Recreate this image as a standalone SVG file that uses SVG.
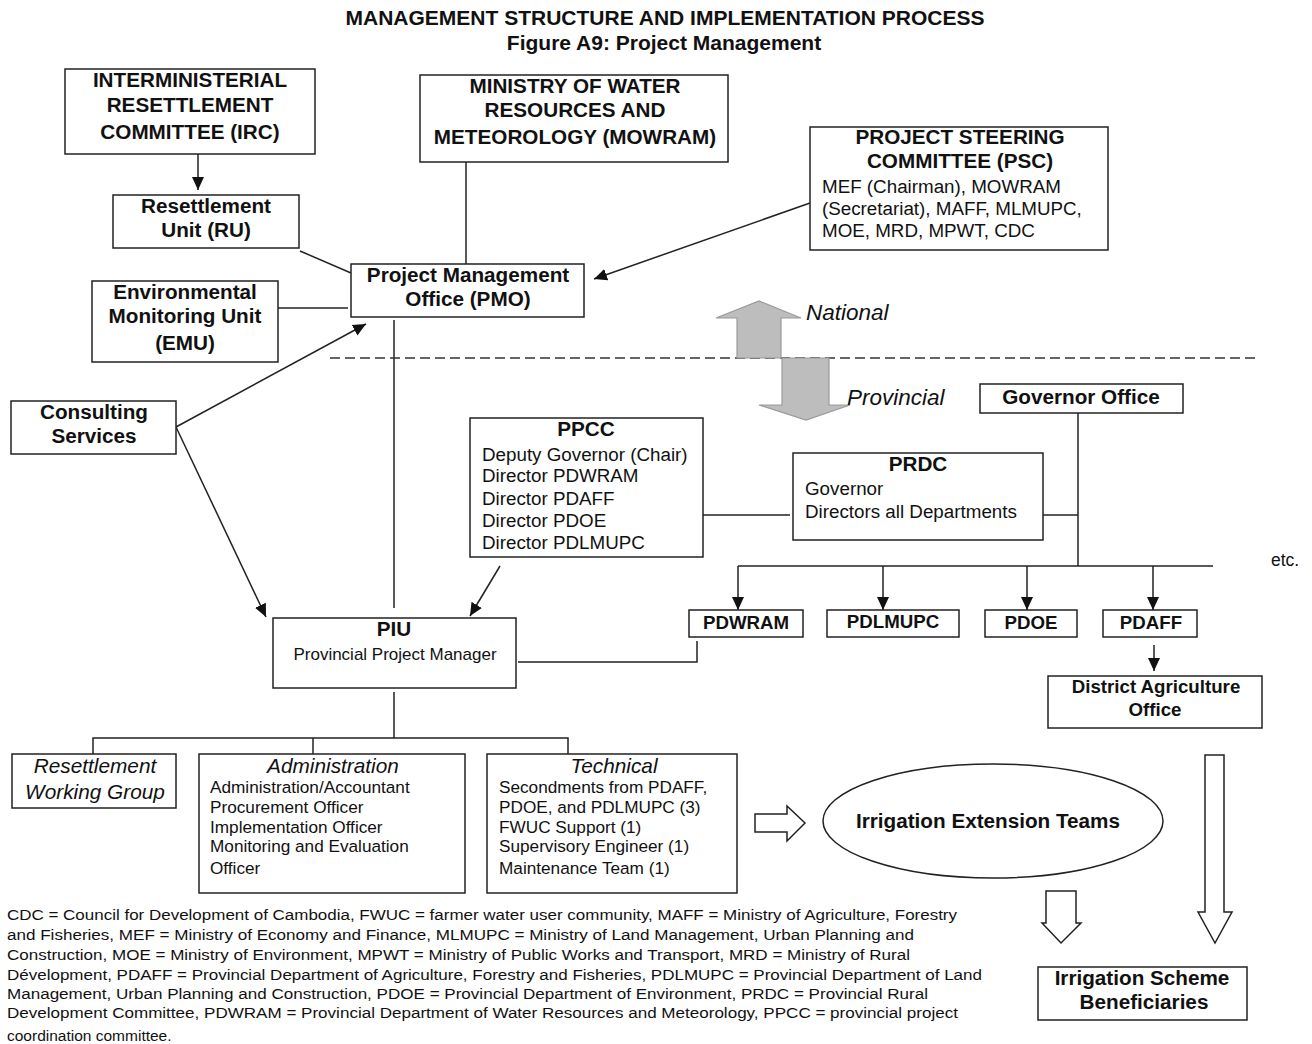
<svg xmlns="http://www.w3.org/2000/svg" width="1312" height="1044" viewBox="0 0 1312 1044">
<defs>
<style>
text{font-family:"Liberation Sans",Arial,sans-serif;fill:#111}
.tt{font-size:21px;font-weight:bold;text-anchor:middle}
.t{font-size:20.7px;font-weight:bold;text-anchor:middle}
.h{font-size:20.7px;font-weight:bold;text-anchor:middle}
.s{font-size:18.7px;font-weight:bold;text-anchor:middle}
.r{font-size:18.8px}
.r16{font-size:17.2px}
.i{font-size:20.8px;font-style:italic;text-anchor:middle}
.fn{font-size:15.5px}
.box{fill:#fff;stroke:#222;stroke-width:1.5}
.ln{fill:none;stroke:#222;stroke-width:1.5}
.hol{fill:#fff;stroke:#222;stroke-width:1.5}
.gray{fill:#bdbdbd;stroke:#9a9a9a;stroke-width:1.2}
</style>
<marker id="ah" markerWidth="14" markerHeight="14" refX="13" refY="7" orient="auto" markerUnits="userSpaceOnUse">
<path d="M0,1 L13,7 L0,13 Z" fill="#111"/>
</marker>
</defs>
<rect width="1312" height="1044" fill="#fff"/>

<text x="665" y="25" class="tt">MANAGEMENT STRUCTURE AND IMPLEMENTATION PROCESS</text>
<text x="664" y="50" class="tt">Figure A9: Project Management</text>

<g id="connectors">
<line class="ln" x1="198" y1="154" x2="198" y2="190" marker-end="url(#ah)"/>
<line class="ln" x1="300" y1="251" x2="351" y2="273"/>
<line class="ln" x1="278" y1="308" x2="348" y2="308"/>
<line class="ln" x1="466" y1="162" x2="466" y2="264"/>
<line class="ln" x1="810" y1="203" x2="594" y2="279" marker-end="url(#ah)"/>
<line class="ln" x1="176" y1="427" x2="366" y2="324" marker-end="url(#ah)"/>
<line class="ln" x1="176" y1="427" x2="266" y2="617" marker-end="url(#ah)"/>
<line class="ln" x1="394" y1="320" x2="394" y2="608"/>
<line class="ln" x1="500" y1="566" x2="470" y2="616" marker-end="url(#ah)"/>
<polyline class="ln" points="518,662 697,662 697,641"/>
<line class="ln" x1="703" y1="515" x2="790" y2="515"/>
<line class="ln" x1="1043" y1="515" x2="1078" y2="515"/>
<line class="ln" x1="1078" y1="413" x2="1078" y2="566"/>
<line class="ln" x1="738" y1="566" x2="1213" y2="566"/>
<line class="ln" x1="738" y1="566" x2="738" y2="610" marker-end="url(#ah)"/>
<line class="ln" x1="883" y1="566" x2="883" y2="610" marker-end="url(#ah)"/>
<line class="ln" x1="1027" y1="566" x2="1027" y2="610" marker-end="url(#ah)"/>
<line class="ln" x1="1153" y1="566" x2="1153" y2="610" marker-end="url(#ah)"/>
<line class="ln" x1="1154" y1="645" x2="1154" y2="671" marker-end="url(#ah)"/>
<line class="ln" x1="394" y1="692" x2="394" y2="738"/>
<polyline class="ln" points="93,754 93,738 568,738 568,754"/>
<line class="ln" x1="313" y1="738" x2="313" y2="754"/>
<line x1="330" y1="358" x2="1260" y2="358" stroke="#333" stroke-width="1.3" stroke-dasharray="10,5"/>
<path class="gray" d="M737,358 L737,318 L716,318 L759,301 L801,318 L781,318 L781,358 Z"/>
<path class="gray" d="M782,358 L829,358 L829,405 L850,405 L806,420 L759,405 L782,405 Z"/>
<path class="hol" d="M755,814 L787,814 L787,806 L805,823 L787,841 L787,832 L755,832 Z"/>
<path class="hol" d="M1046,891 L1076,891 L1076,923 L1081,923 L1061,943 L1042,923 L1046,923 Z"/>
<path class="hol" d="M1205,755 L1224,755 L1224,912 L1232,912 L1215,943 L1198,912 L1205,912 Z"/>
</g>
<text x="806" y="320" font-size="22.5" font-style="italic">National</text>
<text x="847" y="405" font-size="22.5" font-style="italic">Provincial</text>
<text x="1271" y="566" font-size="17.5">etc.</text>

<g id="irc"><rect class="box" x="65" y="69" width="250" height="85"/>
<text x="190" y="87" class="t">INTERMINISTERIAL</text>
<text x="190" y="112" class="t">RESETTLEMENT</text>
<text x="190" y="139" class="t">COMMITTEE (IRC)</text></g>

<g id="mowram"><rect class="box" x="420" y="75" width="308" height="87"/>
<text x="575" y="93" class="t">MINISTRY OF WATER</text>
<text x="575" y="117" class="t">RESOURCES AND</text>
<text x="575" y="144" class="t">METEOROLOGY (MOWRAM)</text></g>

<g id="psc"><rect class="box" x="810" y="127" width="298" height="123"/>
<text x="960" y="144" class="t">PROJECT STEERING</text>
<text x="960" y="168" class="t">COMMITTEE (PSC)</text>
<text x="822" y="193" class="r">MEF (Chairman), MOWRAM</text>
<text x="822" y="215" class="r">(Secretariat), MAFF, MLMUPC,</text>
<text x="822" y="237" class="r">MOE, MRD, MPWT, CDC</text></g>

<g id="ru"><rect class="box" x="113" y="195" width="186" height="53"/>
<text x="206" y="213" class="t">Resettlement</text>
<text x="206" y="237" class="t">Unit (RU)</text></g>

<g id="pmo"><rect class="box" x="351" y="264" width="233" height="53"/>
<text x="468" y="282" class="t">Project Management</text>
<text x="468" y="306" class="t">Office (PMO)</text></g>

<g id="emu"><rect class="box" x="92" y="281" width="186" height="81"/>
<text x="185" y="299" class="t">Environmental</text>
<text x="185" y="323" class="t">Monitoring Unit</text>
<text x="185" y="350" class="t">(EMU)</text></g>

<g id="consulting"><rect class="box" x="11" y="401" width="165" height="53"/>
<text x="94" y="419" class="t">Consulting</text>
<text x="94" y="443" class="t">Services</text></g>

<g id="ppcc"><rect class="box" x="470" y="418" width="233" height="139"/>
<text x="586" y="436" class="t">PPCC</text>
<text x="482" y="461" class="r">Deputy Governor (Chair)</text>
<text x="482" y="482" class="r">Director PDWRAM</text>
<text x="482" y="505" class="r">Director PDAFF</text>
<text x="482" y="527" class="r">Director PDOE</text>
<text x="482" y="549" class="r">Director PDLMUPC</text></g>

<g id="governor"><rect class="box" x="980" y="384" width="203" height="29"/>
<text x="1081" y="404" class="t">Governor Office</text></g>

<g id="prdc"><rect class="box" x="793" y="453" width="250" height="87"/>
<text x="918" y="471" class="t">PRDC</text>
<text x="805" y="495" class="r">Governor</text>
<text x="805" y="518" class="r">Directors all Departments</text></g>

<g id="piu"><rect class="box" x="273" y="618" width="243" height="70"/>
<text x="394" y="636" class="t">PIU</text>
<text x="395" y="660" font-size="17" text-anchor="middle">Provincial Project Manager</text></g>

<g id="pdwram"><rect class="box" x="689" y="610" width="114" height="27"/>
<text x="746" y="629" class="s">PDWRAM</text></g>
<g id="pdlmupc"><rect class="box" x="827" y="610" width="132" height="27"/>
<text x="893" y="628" class="s">PDLMUPC</text></g>
<g id="pdoe"><rect class="box" x="985" y="610" width="92" height="27"/>
<text x="1031" y="629" class="s">PDOE</text></g>
<g id="pdaff"><rect class="box" x="1103" y="610" width="94" height="27"/>
<text x="1151" y="629" class="s">PDAFF</text></g>

<g id="district"><rect class="box" x="1048" y="676" width="214" height="52"/>
<text x="1156" y="693" class="s">District Agriculture</text>
<text x="1155" y="716" class="s">Office</text></g>

<g id="rwg"><rect class="box" x="12" y="754" width="164" height="54"/>
<text x="95" y="773" class="i">Resettlement</text>
<text x="95" y="799" class="i">Working Group</text></g>

<g id="admin"><rect class="box" x="199" y="754" width="266" height="139"/>
<text x="333" y="773" class="i">Administration</text>
<text x="210" y="793" class="r16">Administration/Accountant</text>
<text x="210" y="813" class="r16">Procurement Officer</text>
<text x="210" y="833" class="r16">Implementation Officer</text>
<text x="210" y="852" class="r16">Monitoring and Evaluation</text>
<text x="210" y="874" class="r16">Officer</text></g>

<g id="technical"><rect class="box" x="487" y="754" width="250" height="139"/>
<text x="614" y="773" class="i">Technical</text>
<text x="499" y="793" class="r16">Secondments from PDAFF,</text>
<text x="499" y="813" class="r16">PDOE, and PDLMUPC (3)</text>
<text x="499" y="833" class="r16">FWUC Support (1)</text>
<text x="499" y="852" class="r16">Supervisory Engineer (1)</text>
<text x="499" y="874" class="r16">Maintenance Team (1)</text></g>

<g id="ext"><ellipse class="box" cx="993" cy="821" rx="170" ry="57"/>
<text x="988" y="828" class="h">Irrigation Extension Teams</text></g>

<g id="benef"><rect class="box" x="1038" y="967" width="209" height="53"/>
<text x="1142" y="985" class="h">Irrigation Scheme</text>
<text x="1144" y="1009" class="h">Beneficiaries</text></g>

<g id="footnote">
<text x="7" y="920" class="fn" textLength="950" lengthAdjust="spacingAndGlyphs">CDC = Council for Development of Cambodia, FWUC = farmer water user community, MAFF = Ministry of Agriculture, Forestry</text>
<text x="7" y="940" class="fn" textLength="907" lengthAdjust="spacingAndGlyphs">and Fisheries, MEF = Ministry of Economy and Finance, MLMUPC = Ministry of Land Management, Urban Planning and</text>
<text x="7" y="960" class="fn" textLength="903" lengthAdjust="spacingAndGlyphs">Construction, MOE = Ministry of Environment, MPWT = Ministry of Public Works and Transport, MRD = Ministry of Rural</text>
<text x="7" y="980" class="fn" textLength="975" lengthAdjust="spacingAndGlyphs">Dévelopment, PDAFF = Provincial Department of Agriculture, Forestry and Fisheries, PDLMUPC = Provincial Department of Land</text>
<text x="7" y="999" class="fn" textLength="921" lengthAdjust="spacingAndGlyphs">Management, Urban Planning and Construction, PDOE = Provincial Department of Environment, PRDC = Provincial Rural</text>
<text x="7" y="1018" class="fn" textLength="951" lengthAdjust="spacingAndGlyphs">Development Committee, PDWRAM = Provincial Department of Water Resources and Meteorology, PPCC = provincial project</text>
<text x="7" y="1041" class="fn">coordination committee.</text>
</g>
</svg>
